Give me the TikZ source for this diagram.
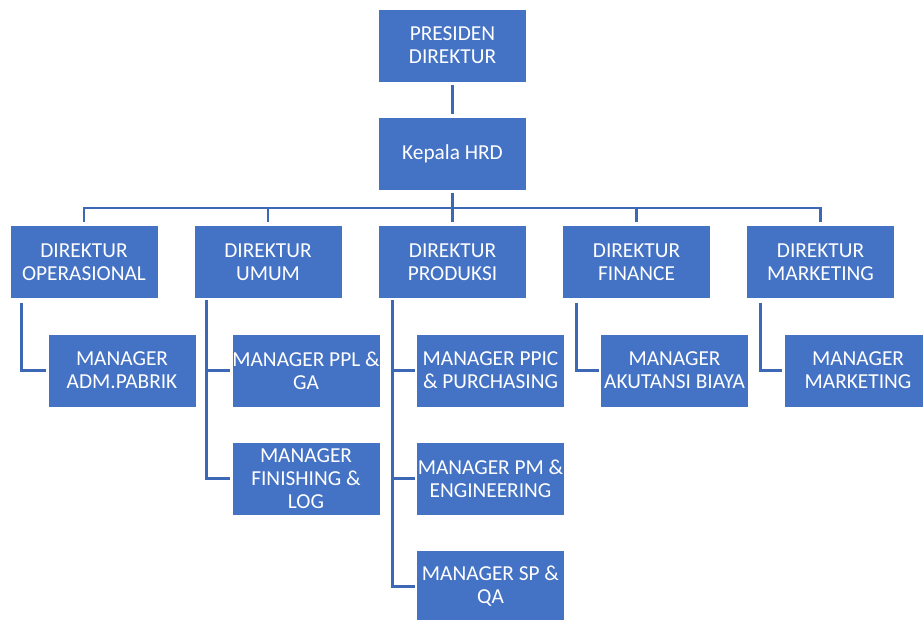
\documentclass[tikz,border=0pt]{standalone}
\usepackage{fontspec}
\setmainfont{Carlito}
\definecolor{boxblue}{HTML}{4472C4}
\definecolor{lineblue}{HTML}{3D68B5}
\begin{document}
\begin{tikzpicture}[x=0.75pt,y=-0.75pt,
  box/.style={rectangle, fill=boxblue, draw=white, line width=0.6pt,
    minimum width=111pt, minimum height=54.75pt, inner sep=0pt,
    align=center, text=white, font=\fontsize{16}{17.3}\selectfont},
  conn/.style={draw=lineblue, line width=2.2pt}]
\useasboundingbox (0,0) rectangle (923,620);
\clip (0,0) rectangle (923,620);
\fill[white] (0,0) rectangle (923,620);
\coordinate (bus) at (452.5,208);
% nodes
\node[box] (pd) at (452.5,45.5) {PRESIDEN\\DIREKTUR};
\node[box] (hrd) at (452.5,153.5) {Kepala HRD};
\node[box] (d1) at (84,262) {DIREKTUR\\OPERASIONAL};
\node[box] (d2) at (268,262) {DIREKTUR\\UMUM};
\node[box] (d3) at (452.5,262) {DIREKTUR\\PRODUKSI};
\node[box] (d4) at (636.5,262) {DIREKTUR\\FINANCE};
\node[box] (d5) at (820.5,262) {DIREKTUR\\MARKETING};
\node[box] (m1) at (122,370.5) {MANAGER\\ADM.PABRIK};
\node[box] (m2) at (306,370.5) {MANAGER PPL \&\\GA};
\node[box] (m3) at (306,478.5) {MANAGER\\FINISHING \&\\LOG};
\node[box] (m4) at (490.5,370.5) {MANAGER PPIC\\\& PURCHASING};
\node[box] (m5) at (490.5,478.5) {MANAGER PM \&\\ENGINEERING};
\node[box] (m6) at (490.5,586.5) {MANAGER SP \&\\QA};
\node[box] (m7) at (674.5,370.5) {MANAGER\\AKUTANSI BIAYA};
\node[box] (m8) at (858,370.5) {MANAGER\\MARKETING};
% connectors
\draw[conn, shorten <=2pt, shorten >=2pt] (pd) -- (hrd);
\draw[conn, shorten <=2pt] (hrd.south) -- (bus);
\draw[conn, shorten <=2pt, shorten >=2pt] (d1.north) |- (bus) -| (d5.north);
\draw[conn, shorten >=2pt] (bus -| d2.north) -- (d2.north);
\draw[conn, shorten >=2pt] (bus -| d3.north) -- (d3.north);
\draw[conn, shorten >=2pt] (bus -| d4.north) -- (d4.north);
\draw[conn, shorten <=2pt, shorten >=1pt] ([xshift=9pt,yshift=-1pt]d1.south west) |- (m1.west);
\draw[conn, shorten <=2pt, shorten >=1pt] ([xshift=9.75pt,yshift=-1pt]d2.south west) |- (m2.west);
\draw[conn, shorten >=1pt] ([xshift=9.75pt,yshift=-1pt]d2.south west) |- (m3.west);
\draw[conn, shorten <=2pt, shorten >=1pt] ([xshift=10.5pt,yshift=-1pt]d3.south west) |- (m4.west);
\draw[conn, shorten >=1pt] ([xshift=10.5pt,yshift=-1pt]d3.south west) |- (m5.west);
\draw[conn, shorten >=1pt] ([xshift=10.5pt,yshift=-1pt]d3.south west) |- (m6.west);
\draw[conn, shorten <=2pt, shorten >=1pt] ([xshift=10.5pt,yshift=-1pt]d4.south west) |- (m7.west);
\draw[conn, shorten <=2pt, shorten >=1pt] ([xshift=10.5pt,yshift=-1pt]d5.south west) |- (m8.west);
\end{tikzpicture}
\end{document}
